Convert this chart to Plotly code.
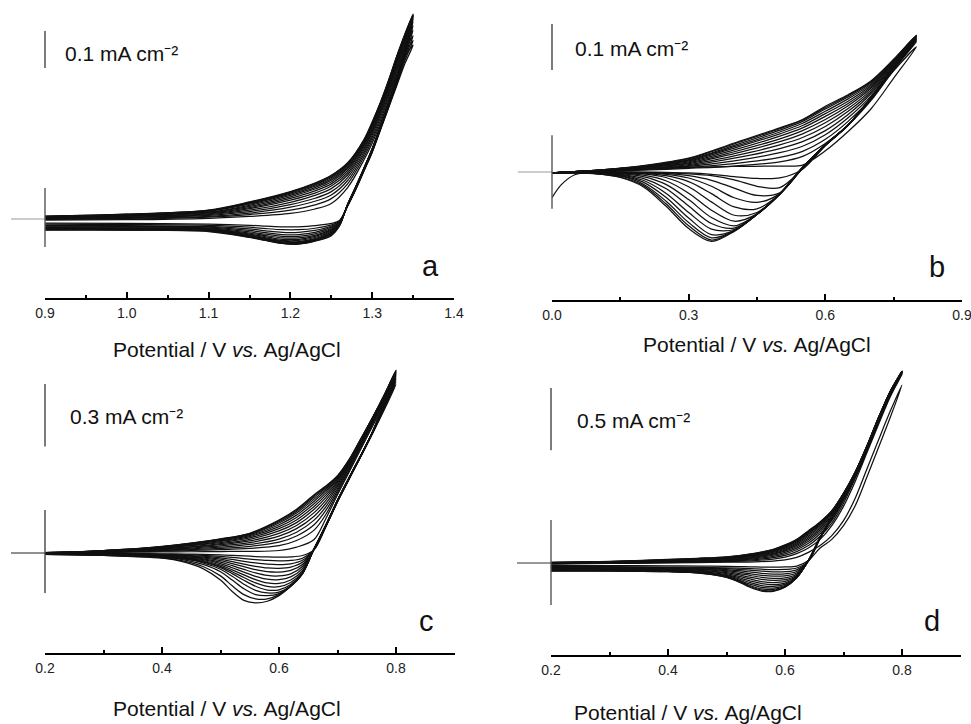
import plotly.graph_objects as go

W, H = 971, 724

# ---------------- panel a : 0.90 - 1.35 V ----------------
A_FWD_E = [0.90, 1.00, 1.10, 1.15, 1.20, 1.23, 1.25, 1.27, 1.29, 1.30, 1.31, 1.32, 1.33, 1.34, 1.35]
A_FWD_I = [
    [-0.003, -0.002, 0.002, 0.007, 0.015, 0.027, 0.042, 0.085, 0.160, 0.205, 0.258, 0.320, 0.385, 0.440, 0.470],
    [-0.001, 0.000, 0.005, 0.012, 0.024, 0.038, 0.055, 0.095, 0.168, 0.213, 0.266, 0.328, 0.392, 0.448, 0.482],
    [0.000, 0.002, 0.007, 0.016, 0.032, 0.048, 0.065, 0.104, 0.175, 0.220, 0.274, 0.335, 0.399, 0.456, 0.495],
    [0.001, 0.004, 0.010, 0.020, 0.039, 0.056, 0.074, 0.112, 0.181, 0.227, 0.281, 0.341, 0.405, 0.463, 0.510],
    [0.002, 0.005, 0.012, 0.024, 0.045, 0.064, 0.082, 0.119, 0.187, 0.233, 0.287, 0.347, 0.411, 0.470, 0.522],
    [0.003, 0.007, 0.014, 0.028, 0.051, 0.070, 0.089, 0.125, 0.192, 0.238, 0.292, 0.352, 0.416, 0.476, 0.532],
    [0.004, 0.008, 0.016, 0.031, 0.056, 0.076, 0.095, 0.131, 0.197, 0.243, 0.297, 0.357, 0.421, 0.481, 0.538],
    [0.004, 0.009, 0.018, 0.034, 0.060, 0.081, 0.100, 0.136, 0.201, 0.247, 0.301, 0.361, 0.425, 0.485, 0.542],
    [0.005, 0.010, 0.019, 0.037, 0.064, 0.085, 0.105, 0.140, 0.205, 0.251, 0.305, 0.365, 0.429, 0.489, 0.545],
    [0.006, 0.011, 0.021, 0.040, 0.067, 0.089, 0.109, 0.144, 0.208, 0.254, 0.308, 0.368, 0.432, 0.492, 0.548],
    [0.006, 0.011, 0.022, 0.042, 0.070, 0.092, 0.112, 0.147, 0.210, 0.257, 0.310, 0.370, 0.435, 0.495, 0.550],
    [0.007, 0.012, 0.023, 0.044, 0.072, 0.094, 0.115, 0.149, 0.212, 0.259, 0.312, 0.372, 0.437, 0.497, 0.551],
    [0.007, 0.013, 0.023, 0.045, 0.073, 0.096, 0.117, 0.151, 0.214, 0.261, 0.314, 0.374, 0.439, 0.499, 0.552],
    [0.008, 0.013, 0.024, 0.046, 0.074, 0.097, 0.118, 0.152, 0.215, 0.262, 0.315, 0.375, 0.440, 0.500, 0.554],
]
A_REV_E = [1.34, 1.33, 1.32, 1.31, 1.30, 1.29, 1.28, 1.27, 1.26, 1.25, 1.23, 1.21, 1.19, 1.17, 1.15, 1.10, 1.00, 0.90]
A_REV_I = [
    [0.420, 0.360, 0.300, 0.240, 0.180, 0.130, 0.080, 0.035, -0.004, -0.012, -0.018, -0.021, -0.021, -0.019, -0.017, -0.014, -0.012, -0.011],
    [0.428, 0.364, 0.302, 0.242, 0.182, 0.131, 0.081, 0.036, -0.006, -0.016, -0.025, -0.029, -0.029, -0.026, -0.022, -0.017, -0.015, -0.014],
    [0.434, 0.367, 0.304, 0.243, 0.183, 0.132, 0.082, 0.036, -0.007, -0.019, -0.031, -0.036, -0.036, -0.032, -0.027, -0.020, -0.018, -0.017],
    [0.440, 0.370, 0.306, 0.244, 0.184, 0.133, 0.083, 0.037, -0.009, -0.022, -0.036, -0.042, -0.042, -0.037, -0.031, -0.022, -0.020, -0.019],
    [0.445, 0.373, 0.307, 0.245, 0.185, 0.134, 0.084, 0.037, -0.010, -0.025, -0.040, -0.047, -0.047, -0.041, -0.035, -0.024, -0.022, -0.021],
    [0.449, 0.375, 0.308, 0.246, 0.186, 0.134, 0.084, 0.038, -0.011, -0.028, -0.044, -0.051, -0.051, -0.045, -0.038, -0.026, -0.024, -0.023],
    [0.452, 0.377, 0.309, 0.246, 0.186, 0.135, 0.085, 0.038, -0.012, -0.030, -0.047, -0.055, -0.055, -0.048, -0.041, -0.027, -0.025, -0.024],
    [0.455, 0.379, 0.310, 0.247, 0.187, 0.135, 0.085, 0.038, -0.013, -0.033, -0.050, -0.058, -0.058, -0.051, -0.043, -0.028, -0.026, -0.025],
    [0.457, 0.380, 0.311, 0.248, 0.188, 0.136, 0.086, 0.039, -0.014, -0.035, -0.053, -0.061, -0.060, -0.053, -0.045, -0.029, -0.027, -0.026],
    [0.459, 0.381, 0.312, 0.248, 0.188, 0.136, 0.086, 0.039, -0.015, -0.037, -0.055, -0.063, -0.062, -0.055, -0.046, -0.030, -0.028, -0.027],
    [0.461, 0.382, 0.313, 0.249, 0.189, 0.137, 0.087, 0.039, -0.016, -0.039, -0.057, -0.065, -0.064, -0.056, -0.047, -0.031, -0.028, -0.028],
    [0.462, 0.383, 0.314, 0.249, 0.189, 0.137, 0.087, 0.040, -0.017, -0.041, -0.058, -0.066, -0.065, -0.057, -0.048, -0.032, -0.029, -0.029],
    [0.464, 0.384, 0.314, 0.250, 0.190, 0.138, 0.088, 0.040, -0.018, -0.043, -0.059, -0.067, -0.066, -0.058, -0.049, -0.033, -0.030, -0.029],
    [0.465, 0.385, 0.315, 0.250, 0.190, 0.138, 0.088, 0.040, -0.019, -0.045, -0.060, -0.068, -0.066, -0.058, -0.050, -0.034, -0.030, -0.030],
]
A_TICKS = [0.9, 1.0, 1.1, 1.2, 1.3, 1.4]
A_MINOR = [0.95, 1.05, 1.15, 1.25, 1.35]
A_SCALE = 0.1

# ---------------- panel b : 0.00 - 0.80 V ----------------
B_FWD_E = [0.00, 0.02, 0.05, 0.10, 0.20, 0.30, 0.40, 0.50, 0.55, 0.60, 0.65, 0.70, 0.75, 0.80]
B_FWD_I = [
    [-0.056, -0.028, -0.006, 0.001, 0.006, 0.010, 0.012, 0.013, 0.015, 0.046, 0.088, 0.137, 0.204, 0.272],
    [-0.002, -0.001, 0.000, 0.001, 0.004, 0.008, 0.013, 0.022, 0.034, 0.062, 0.102, 0.155, 0.222, 0.283],
    [-0.002, -0.001, 0.000, 0.001, 0.005, 0.010, 0.018, 0.032, 0.045, 0.071, 0.110, 0.160, 0.226, 0.286],
    [-0.002, -0.001, 0.000, 0.002, 0.006, 0.012, 0.024, 0.042, 0.056, 0.081, 0.118, 0.165, 0.229, 0.288],
    [-0.002, -0.001, 0.000, 0.002, 0.007, 0.014, 0.030, 0.051, 0.066, 0.090, 0.125, 0.170, 0.231, 0.290],
    [-0.002, -0.001, 0.001, 0.002, 0.008, 0.016, 0.035, 0.059, 0.075, 0.099, 0.132, 0.174, 0.233, 0.291],
    [-0.002, -0.001, 0.001, 0.003, 0.009, 0.018, 0.040, 0.066, 0.083, 0.107, 0.138, 0.178, 0.235, 0.292],
    [-0.002, -0.001, 0.001, 0.003, 0.010, 0.020, 0.044, 0.072, 0.090, 0.114, 0.144, 0.182, 0.237, 0.293],
    [-0.002, -0.001, 0.001, 0.003, 0.011, 0.022, 0.048, 0.078, 0.096, 0.121, 0.149, 0.185, 0.239, 0.294],
    [-0.002, -0.001, 0.001, 0.003, 0.011, 0.024, 0.052, 0.083, 0.101, 0.127, 0.154, 0.188, 0.240, 0.295],
    [-0.002, -0.001, 0.001, 0.004, 0.012, 0.026, 0.055, 0.087, 0.106, 0.132, 0.159, 0.191, 0.242, 0.296],
    [-0.002, -0.001, 0.001, 0.004, 0.013, 0.027, 0.058, 0.091, 0.110, 0.137, 0.163, 0.194, 0.243, 0.296],
    [-0.002, -0.001, 0.001, 0.004, 0.013, 0.029, 0.061, 0.094, 0.113, 0.140, 0.166, 0.196, 0.244, 0.297],
    [-0.002, -0.001, 0.001, 0.004, 0.014, 0.030, 0.063, 0.096, 0.114, 0.143, 0.168, 0.198, 0.245, 0.297],
]
B_REV_E = [0.75, 0.70, 0.65, 0.60, 0.55, 0.50, 0.45, 0.40, 0.35, 0.30, 0.25, 0.20, 0.15, 0.10, 0.05, 0.00]
B_REV_I = [
    [0.220, 0.158, 0.101, 0.057, 0.006, -0.013, -0.014, -0.010, -0.005, -0.002, -0.001, 0.000, 0.000, -0.001, -0.001, -0.002],
    [0.224, 0.160, 0.102, 0.058, 0.007, -0.034, -0.031, -0.017, -0.008, -0.004, -0.002, -0.001, -0.001, -0.001, -0.001, -0.002],
    [0.225, 0.160, 0.102, 0.058, 0.008, -0.045, -0.051, -0.035, -0.018, -0.008, -0.003, -0.002, -0.001, -0.001, -0.001, -0.002],
    [0.225, 0.160, 0.102, 0.058, 0.008, -0.047, -0.066, -0.056, -0.031, -0.013, -0.005, -0.002, -0.001, -0.001, -0.001, -0.002],
    [0.225, 0.160, 0.102, 0.059, 0.009, -0.048, -0.080, -0.076, -0.047, -0.021, -0.008, -0.003, -0.002, -0.001, -0.001, -0.002],
    [0.225, 0.160, 0.102, 0.059, 0.009, -0.048, -0.088, -0.094, -0.065, -0.032, -0.012, -0.004, -0.002, -0.001, -0.001, -0.002],
    [0.225, 0.160, 0.102, 0.059, 0.009, -0.048, -0.091, -0.107, -0.083, -0.046, -0.019, -0.007, -0.003, -0.002, -0.001, -0.002],
    [0.225, 0.160, 0.102, 0.059, 0.009, -0.048, -0.092, -0.117, -0.099, -0.060, -0.027, -0.010, -0.004, -0.002, -0.001, -0.002],
    [0.226, 0.161, 0.102, 0.059, 0.010, -0.048, -0.092, -0.122, -0.112, -0.074, -0.036, -0.014, -0.005, -0.002, -0.001, -0.002],
    [0.226, 0.161, 0.102, 0.059, 0.010, -0.048, -0.092, -0.125, -0.124, -0.088, -0.046, -0.018, -0.006, -0.003, -0.002, -0.002],
    [0.226, 0.161, 0.102, 0.059, 0.010, -0.048, -0.092, -0.127, -0.136, -0.100, -0.055, -0.022, -0.008, -0.003, -0.002, -0.002],
    [0.226, 0.161, 0.102, 0.059, 0.010, -0.048, -0.092, -0.128, -0.143, -0.110, -0.063, -0.026, -0.009, -0.004, -0.002, -0.002],
    [0.226, 0.161, 0.102, 0.059, 0.010, -0.048, -0.092, -0.128, -0.148, -0.117, -0.069, -0.029, -0.011, -0.004, -0.002, -0.002],
    [0.226, 0.161, 0.102, 0.059, 0.010, -0.048, -0.092, -0.129, -0.151, -0.123, -0.074, -0.032, -0.012, -0.004, -0.002, -0.002],
]
B_TICKS = [0.0, 0.3, 0.6, 0.9]
B_MINOR = [0.15, 0.45, 0.75]
B_SCALE = 0.1

# ---------------- panel c : 0.20 - 0.80 V ----------------
C_FWD_E = [0.20, 0.25, 0.30, 0.35, 0.40, 0.45, 0.50, 0.55, 0.60, 0.63, 0.66, 0.68, 0.70, 0.72, 0.74, 0.76, 0.78, 0.80]
C_FWD_I = [
    [-0.002, 0.000, 0.002, 0.004, 0.005, 0.006, 0.007, 0.008, 0.012, 0.028, 0.065, 0.165, 0.280, 0.390, 0.500, 0.610, 0.710, 0.810],
    [-0.001, 0.001, 0.003, 0.006, 0.009, 0.012, 0.016, 0.022, 0.035, 0.060, 0.110, 0.185, 0.290, 0.398, 0.508, 0.618, 0.720, 0.822],
    [0.000, 0.002, 0.004, 0.007, 0.011, 0.016, 0.022, 0.032, 0.052, 0.082, 0.136, 0.205, 0.300, 0.405, 0.514, 0.624, 0.728, 0.832],
    [0.000, 0.002, 0.005, 0.009, 0.014, 0.020, 0.028, 0.041, 0.067, 0.100, 0.158, 0.222, 0.310, 0.412, 0.520, 0.629, 0.735, 0.840],
    [0.000, 0.003, 0.006, 0.010, 0.016, 0.024, 0.034, 0.050, 0.081, 0.117, 0.177, 0.238, 0.320, 0.418, 0.525, 0.634, 0.741, 0.847],
    [0.001, 0.003, 0.007, 0.012, 0.019, 0.028, 0.040, 0.058, 0.094, 0.132, 0.194, 0.253, 0.329, 0.424, 0.530, 0.638, 0.746, 0.853],
    [0.001, 0.003, 0.008, 0.013, 0.021, 0.031, 0.045, 0.066, 0.106, 0.146, 0.210, 0.266, 0.337, 0.429, 0.534, 0.641, 0.750, 0.858],
    [0.001, 0.004, 0.009, 0.015, 0.023, 0.035, 0.050, 0.073, 0.117, 0.159, 0.224, 0.278, 0.344, 0.434, 0.538, 0.644, 0.753, 0.862],
    [0.001, 0.004, 0.009, 0.016, 0.025, 0.038, 0.055, 0.079, 0.127, 0.171, 0.237, 0.289, 0.351, 0.438, 0.541, 0.646, 0.755, 0.866],
    [0.001, 0.004, 0.010, 0.017, 0.027, 0.041, 0.059, 0.084, 0.136, 0.182, 0.249, 0.299, 0.357, 0.442, 0.544, 0.648, 0.757, 0.869],
    [0.002, 0.005, 0.011, 0.018, 0.029, 0.043, 0.062, 0.088, 0.144, 0.192, 0.259, 0.307, 0.362, 0.445, 0.546, 0.649, 0.758, 0.872],
    [0.002, 0.005, 0.011, 0.019, 0.030, 0.045, 0.065, 0.091, 0.150, 0.200, 0.268, 0.314, 0.366, 0.447, 0.548, 0.650, 0.759, 0.875],
    [0.002, 0.005, 0.012, 0.020, 0.031, 0.047, 0.067, 0.093, 0.155, 0.206, 0.275, 0.319, 0.369, 0.449, 0.549, 0.651, 0.760, 0.877],
    [0.002, 0.005, 0.012, 0.020, 0.032, 0.048, 0.068, 0.095, 0.158, 0.210, 0.280, 0.322, 0.372, 0.450, 0.550, 0.652, 0.761, 0.880],
]
C_REV_E = [0.76, 0.72, 0.70, 0.68, 0.66, 0.64, 0.62, 0.60, 0.58, 0.56, 0.54, 0.52, 0.50, 0.47, 0.44, 0.40, 0.35, 0.30, 0.20]
C_REV_I = [
    [0.575, 0.355, 0.245, 0.125, 0.015, -0.012, -0.019, -0.020, -0.019, -0.017, -0.014, -0.011, -0.009, -0.007, -0.005, -0.004, -0.003, -0.002, -0.001],
    [0.577, 0.357, 0.247, 0.127, 0.017, -0.025, -0.036, -0.038, -0.036, -0.032, -0.027, -0.021, -0.016, -0.011, -0.008, -0.006, -0.004, -0.003, -0.002],
    [0.578, 0.358, 0.248, 0.128, 0.018, -0.035, -0.052, -0.056, -0.054, -0.048, -0.040, -0.031, -0.023, -0.015, -0.011, -0.008, -0.006, -0.004, -0.002],
    [0.579, 0.359, 0.249, 0.129, 0.019, -0.045, -0.068, -0.074, -0.072, -0.064, -0.053, -0.041, -0.030, -0.020, -0.014, -0.010, -0.007, -0.005, -0.003],
    [0.580, 0.360, 0.250, 0.130, 0.019, -0.055, -0.084, -0.092, -0.090, -0.080, -0.066, -0.051, -0.037, -0.024, -0.017, -0.012, -0.008, -0.006, -0.003],
    [0.580, 0.360, 0.250, 0.130, 0.020, -0.065, -0.100, -0.110, -0.108, -0.096, -0.079, -0.061, -0.044, -0.028, -0.019, -0.014, -0.009, -0.006, -0.003],
    [0.581, 0.361, 0.251, 0.131, 0.020, -0.075, -0.115, -0.128, -0.126, -0.112, -0.092, -0.071, -0.051, -0.032, -0.022, -0.015, -0.010, -0.007, -0.004],
    [0.581, 0.361, 0.251, 0.131, 0.020, -0.085, -0.130, -0.146, -0.144, -0.128, -0.105, -0.081, -0.058, -0.036, -0.024, -0.017, -0.011, -0.007, -0.004],
    [0.582, 0.362, 0.252, 0.132, 0.020, -0.092, -0.142, -0.162, -0.161, -0.144, -0.118, -0.090, -0.064, -0.040, -0.026, -0.018, -0.012, -0.008, -0.004],
    [0.582, 0.362, 0.252, 0.132, 0.020, -0.096, -0.151, -0.177, -0.178, -0.160, -0.131, -0.099, -0.070, -0.043, -0.028, -0.019, -0.013, -0.008, -0.004],
    [0.583, 0.363, 0.253, 0.133, 0.020, -0.099, -0.157, -0.188, -0.192, -0.180, -0.150, -0.112, -0.078, -0.047, -0.030, -0.020, -0.014, -0.009, -0.005],
    [0.583, 0.363, 0.253, 0.133, 0.020, -0.100, -0.160, -0.195, -0.205, -0.200, -0.172, -0.130, -0.090, -0.055, -0.034, -0.021, -0.014, -0.009, -0.005],
    [0.584, 0.364, 0.254, 0.134, 0.020, -0.100, -0.160, -0.200, -0.220, -0.220, -0.200, -0.158, -0.110, -0.065, -0.040, -0.023, -0.016, -0.011, -0.006],
    [0.584, 0.364, 0.254, 0.134, 0.020, -0.100, -0.160, -0.205, -0.232, -0.240, -0.228, -0.185, -0.130, -0.075, -0.045, -0.025, -0.017, -0.012, -0.006],
]
C_TICKS = [0.2, 0.4, 0.6, 0.8]
C_MINOR = [0.3, 0.5, 0.7, 0.9]
C_SCALE = 0.3

# ---------------- panel d : 0.20 - 0.80 V ----------------
D_FWD_E = [0.20, 0.30, 0.40, 0.45, 0.50, 0.55, 0.58, 0.60, 0.62, 0.64, 0.66, 0.68, 0.70, 0.72, 0.74, 0.76, 0.78, 0.80]
D_FWD_I = [
    [-0.008, -0.004, 0.000, 0.003, 0.006, 0.010, 0.016, 0.025, 0.045, 0.085, 0.140, 0.220, 0.340, 0.520, 0.755, 0.990, 1.220, 1.430],
    [-0.006, -0.002, 0.003, 0.007, 0.011, 0.020, 0.032, 0.048, 0.075, 0.120, 0.190, 0.300, 0.455, 0.655, 0.885, 1.115, 1.335, 1.515],
    [-0.005, 0.000, 0.006, 0.010, 0.016, 0.028, 0.044, 0.062, 0.092, 0.140, 0.215, 0.320, 0.480, 0.680, 0.905, 1.135, 1.350, 1.520],
    [-0.004, 0.002, 0.009, 0.013, 0.020, 0.035, 0.054, 0.074, 0.106, 0.158, 0.235, 0.340, 0.500, 0.695, 0.915, 1.145, 1.360, 1.525],
    [-0.003, 0.003, 0.011, 0.016, 0.024, 0.042, 0.063, 0.085, 0.119, 0.174, 0.252, 0.356, 0.514, 0.705, 0.922, 1.152, 1.365, 1.530],
    [-0.002, 0.005, 0.013, 0.019, 0.028, 0.048, 0.071, 0.095, 0.131, 0.188, 0.267, 0.370, 0.525, 0.712, 0.927, 1.157, 1.369, 1.533],
    [-0.001, 0.006, 0.015, 0.022, 0.031, 0.054, 0.078, 0.104, 0.142, 0.201, 0.280, 0.382, 0.534, 0.717, 0.931, 1.161, 1.372, 1.535],
    [0.000, 0.007, 0.017, 0.025, 0.034, 0.059, 0.085, 0.112, 0.152, 0.213, 0.292, 0.392, 0.541, 0.721, 0.934, 1.164, 1.374, 1.536],
    [0.001, 0.008, 0.019, 0.027, 0.037, 0.064, 0.091, 0.119, 0.161, 0.224, 0.302, 0.400, 0.547, 0.724, 0.936, 1.166, 1.376, 1.537],
    [0.002, 0.009, 0.021, 0.030, 0.040, 0.068, 0.096, 0.126, 0.169, 0.234, 0.311, 0.407, 0.551, 0.726, 0.937, 1.167, 1.377, 1.538],
    [0.003, 0.010, 0.023, 0.032, 0.043, 0.072, 0.101, 0.132, 0.176, 0.242, 0.318, 0.412, 0.554, 0.728, 0.938, 1.168, 1.378, 1.539],
    [0.003, 0.011, 0.025, 0.034, 0.046, 0.075, 0.105, 0.137, 0.182, 0.249, 0.324, 0.416, 0.557, 0.729, 0.939, 1.169, 1.379, 1.540],
    [0.004, 0.012, 0.027, 0.036, 0.048, 0.078, 0.108, 0.141, 0.187, 0.255, 0.328, 0.419, 0.559, 0.730, 0.940, 1.170, 1.380, 1.540],
    [0.005, 0.013, 0.029, 0.038, 0.050, 0.080, 0.110, 0.145, 0.190, 0.260, 0.330, 0.420, 0.560, 0.730, 0.940, 1.170, 1.380, 1.540],
]
D_REV_E = [0.78, 0.76, 0.74, 0.72, 0.70, 0.68, 0.66, 0.64, 0.62, 0.60, 0.58, 0.56, 0.54, 0.52, 0.50, 0.46, 0.40, 0.30, 0.20]
D_REV_I = [
    [1.170, 0.930, 0.690, 0.460, 0.300, 0.190, 0.120, 0.020, -0.025, -0.032, -0.034, -0.033, -0.031, -0.029, -0.027, -0.025, -0.023, -0.021, -0.020],
    [1.350, 1.130, 0.900, 0.690, 0.512, 0.355, 0.198, 0.015, -0.040, -0.052, -0.053, -0.050, -0.046, -0.042, -0.039, -0.036, -0.033, -0.030, -0.028],
    [1.355, 1.135, 0.905, 0.695, 0.515, 0.358, 0.200, 0.016, -0.055, -0.070, -0.071, -0.066, -0.058, -0.051, -0.046, -0.041, -0.037, -0.034, -0.032],
    [1.358, 1.138, 0.908, 0.697, 0.517, 0.360, 0.201, 0.017, -0.068, -0.087, -0.089, -0.083, -0.072, -0.061, -0.053, -0.046, -0.041, -0.038, -0.036],
    [1.360, 1.140, 0.910, 0.699, 0.519, 0.361, 0.202, 0.017, -0.080, -0.103, -0.106, -0.099, -0.086, -0.072, -0.061, -0.051, -0.045, -0.041, -0.039],
    [1.362, 1.142, 0.912, 0.700, 0.520, 0.362, 0.203, 0.018, -0.090, -0.119, -0.123, -0.115, -0.100, -0.083, -0.069, -0.056, -0.049, -0.045, -0.042],
    [1.364, 1.144, 0.914, 0.701, 0.521, 0.362, 0.203, 0.018, -0.098, -0.134, -0.140, -0.132, -0.114, -0.094, -0.077, -0.061, -0.053, -0.048, -0.045],
    [1.365, 1.145, 0.915, 0.702, 0.522, 0.363, 0.204, 0.019, -0.105, -0.148, -0.157, -0.149, -0.128, -0.105, -0.085, -0.066, -0.057, -0.051, -0.048],
    [1.366, 1.146, 0.916, 0.703, 0.523, 0.363, 0.204, 0.019, -0.110, -0.161, -0.173, -0.165, -0.143, -0.116, -0.093, -0.071, -0.060, -0.054, -0.051],
    [1.367, 1.147, 0.917, 0.703, 0.523, 0.364, 0.204, 0.019, -0.114, -0.172, -0.188, -0.181, -0.157, -0.126, -0.100, -0.075, -0.063, -0.057, -0.054],
    [1.368, 1.148, 0.918, 0.704, 0.524, 0.364, 0.205, 0.020, -0.117, -0.181, -0.201, -0.195, -0.170, -0.135, -0.106, -0.079, -0.066, -0.060, -0.057],
    [1.369, 1.149, 0.919, 0.704, 0.524, 0.364, 0.205, 0.020, -0.118, -0.187, -0.212, -0.208, -0.181, -0.142, -0.110, -0.081, -0.068, -0.062, -0.060],
    [1.370, 1.150, 0.920, 0.705, 0.525, 0.365, 0.205, 0.020, -0.119, -0.192, -0.221, -0.218, -0.189, -0.147, -0.113, -0.083, -0.069, -0.064, -0.063],
    [1.370, 1.150, 0.920, 0.705, 0.525, 0.365, 0.205, 0.020, -0.120, -0.195, -0.228, -0.225, -0.195, -0.150, -0.115, -0.085, -0.070, -0.065, -0.065],
]
D_TICKS = [0.2, 0.4, 0.6, 0.8]
D_MINOR = [0.3, 0.5, 0.7, 0.9]
D_SCALE = 0.5

X_TITLE = "Potential / V <i>vs.</i> Ag/AgCl"
FONT = "Liberation Sans, Arial, Helvetica, sans-serif"

# Frame of each panel in page pixels: x0/x1 = pixel of first/last axis value,
# axis = pixel row of the potential axis, zero = pixel row of zero current,
# ppu = pixels per mA cm-2, top = top edge of the plotting area.
PANELS = [
    dict(letter="a", fE=A_FWD_E, fI=A_FWD_I, rE=A_REV_E, rI=A_REV_I, xr=(0.9, 1.4),
         ticks=A_TICKS, minor=A_MINOR, scale=A_SCALE, bar_top=0.508, mark=(0.084, -0.076),
         x0=45, x1=454, axis=298, zero=219, ppu=370, top=4,
         hcol="#9a9a9a", vcol="#555555", lab=(63, 53), let=(430, 266), tit=(227, 349)),
    dict(letter="b", fE=B_FWD_E, fI=B_FWD_I, rE=B_REV_E, rI=B_REV_I, xr=(0.0, 0.9),
         ticks=B_TICKS, minor=B_MINOR, scale=B_SCALE, bar_top=0.322, mark=(0.080, -0.080),
         x0=552, x1=962, axis=300, zero=172, ppu=460, top=4,
         hcol="#9a9a9a", vcol="#555555", lab=(573, 48), let=(937, 267), tit=(757, 344)),
    dict(letter="c", fE=C_FWD_E, fI=C_FWD_I, rE=C_REV_E, rI=C_REV_I, xr=(0.2, 0.9),
         ticks=C_TICKS, minor=C_MINOR, scale=C_SCALE, bar_top=0.8125, mark=(0.207, -0.192),
         x0=45, x1=454.5, axis=653, zero=553, ppu=208, top=362,
         hcol="#222222", vcol="#444444", lab=(68, 417), let=(426, 621), tit=(227, 708)),
    dict(letter="d", fE=D_FWD_E, fI=D_FWD_I, rE=D_REV_E, rI=D_REV_I, xr=(0.2, 0.9),
         ticks=D_TICKS, minor=D_MINOR, scale=D_SCALE, bar_top=1.406, mark=(0.345, -0.337),
         x0=551, x1=960.5, axis=655, zero=563, ppu=124.5, top=362,
         hcol="#333333", vcol="#555555", lab=(575, 420), let=(932, 621), tit=(688, 712)),
]


def paper(p, E=None, i=None, px=None, py=None):
    """Convert data (E, i) or raw page pixels into paper coordinates."""
    if E is not None:
        px = p["x0"] + (E - p["xr"][0]) / (p["xr"][1] - p["xr"][0]) * (p["x1"] - p["x0"])
    if i is not None:
        py = p["zero"] - i * p["ppu"]
    return (None if px is None else px / W), (None if py is None else (H - py) / H)


fig = go.Figure()
shapes, annotations, axes = [], [], {}

for n, p in enumerate(PANELS, start=1):
    sfx = "" if n == 1 else str(n)
    for fi, ri in zip(p["fI"], p["rI"]):
        fig.add_trace(go.Scatter(
            x=p["fE"] + p["rE"], y=fi + ri, mode="lines",
            line=dict(color="#111111", width=1.25, shape="spline", smoothing=0.9),
            xaxis="x" + sfx, yaxis="y" + sfx, showlegend=False, hoverinfo="skip"))

    eps = 1e-6
    axes["xaxis" + sfx] = dict(
        domain=[p["x0"] / W, p["x1"] / W], range=[p["xr"][0] - eps, p["xr"][1] + eps],
        anchor="y" + sfx, showline=True, linecolor="black", linewidth=2.2,
        ticks="inside", ticklen=6, tickwidth=1.6, tickcolor="black",
        tickmode="array", tickvals=p["ticks"], ticktext=[f"{t:.1f}" for t in p["ticks"]],
        minor=dict(ticks="inside", ticklen=3, tickwidth=1.6, tickcolor="black",
                   tickmode="array", tickvals=p["minor"]),
        ticklabelstandoff=1, ticklabeloverflow="allow", automargin=False,
        tickfont=dict(family=FONT, size=14, color="#222222"),
        showgrid=False, zeroline=False, fixedrange=True)
    axes["yaxis" + sfx] = dict(
        domain=[(H - p["axis"]) / H, (H - p["top"]) / H],
        range=[(p["zero"] - p["axis"]) / p["ppu"], (p["zero"] - p["top"]) / p["ppu"]],
        anchor="x" + sfx, visible=False, automargin=False, fixedrange=True)

    E0 = p["xr"][0]
    # zero-current reference line running left of the start potential
    xa, yz = paper(p, E=E0, i=0.0)
    xl, _ = paper(p, px=p["x0"] - 34)
    shapes.append(dict(type="line", xref="paper", yref="paper", x0=xl, x1=xa, y0=yz, y1=yz,
                       line=dict(color=p["hcol"], width=1.2)))
    # vertical marker at the start potential
    _, ym1 = paper(p, i=p["mark"][0])
    _, ym2 = paper(p, i=p["mark"][1])
    shapes.append(dict(type="line", xref="paper", yref="paper", x0=xa, x1=xa, y0=ym1, y1=ym2,
                       line=dict(color=p["vcol"], width=1.4)))
    # current scale bar
    _, yb1 = paper(p, i=p["bar_top"])
    _, yb2 = paper(p, i=p["bar_top"] - p["scale"])
    shapes.append(dict(type="line", xref="paper", yref="paper", x0=xa, x1=xa, y0=yb1, y1=yb2,
                       line=dict(color="#444444", width=1.4)))

    lx, ly = paper(p, px=p["lab"][0], py=p["lab"][1])
    annotations.append(dict(text=f"{p['scale']:g} mA cm\u207b\u00b2", x=lx, y=ly,
                            xref="paper", yref="paper", xanchor="left", yanchor="middle",
                            showarrow=False, font=dict(family=FONT, size=21, color="#111111")))
    cx, cy = paper(p, px=p["let"][0], py=p["let"][1])
    annotations.append(dict(text=p["letter"], x=cx, y=cy, xref="paper", yref="paper",
                            xanchor="center", yanchor="middle", showarrow=False,
                            font=dict(family=FONT, size=29, color="#111111")))
    tx, ty = paper(p, px=p["tit"][0], py=p["tit"][1])
    annotations.append(dict(text=X_TITLE, x=tx, y=ty, xref="paper", yref="paper",
                            xanchor="center", yanchor="middle", showarrow=False,
                            font=dict(family=FONT, size=21, color="#111111")))

fig.update_layout(
    width=W, height=H, autosize=False, margin=dict(l=0, r=0, t=0, b=0, pad=0, autoexpand=False),
    paper_bgcolor="white", plot_bgcolor="white",
    shapes=shapes, annotations=annotations, **axes)

fig.write_html("out.html", config={"displayModeBar": False, "responsive": False})
